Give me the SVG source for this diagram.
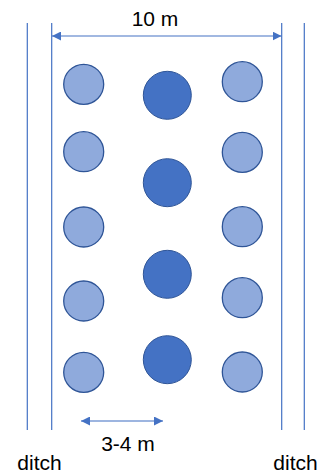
<svg xmlns="http://www.w3.org/2000/svg" width="328" height="473" viewBox="0 0 328 473">
<style>
.lt{fill:#8FAADC;stroke:#2F5597;stroke-width:1.3}
.dk{fill:#4472C4;stroke:#2F5597;stroke-width:1}
.ln{stroke:#4472C4;stroke-width:1.2;fill:none}
.t{font-family:"Liberation Sans",Arial,sans-serif;font-size:21px;fill:#000}
</style>
<defs>
<marker id="ah" viewBox="0 0 10 10" refX="10" refY="5" markerWidth="9" markerHeight="9" markerUnits="userSpaceOnUse" orient="auto-start-reverse">
<path d="M0,0 L10,5 L0,10 z" fill="#4472C4"/>
</marker>
</defs>
<g id="connectors">
<line class="ln" x1="27.3" y1="23" x2="27.3" y2="430"/>
<line class="ln" x1="51.7" y1="23" x2="51.7" y2="430"/>
<line class="ln" x1="281.7" y1="23" x2="281.7" y2="430"/>
<line class="ln" x1="304.3" y1="23" x2="304.3" y2="430"/>
<line class="ln" x1="52" y1="36" x2="281.5" y2="36" marker-start="url(#ah)" marker-end="url(#ah)"/>
<line x1="81" y1="421" x2="163" y2="421" stroke="#9DB5E0" stroke-width="2" marker-start="url(#ah)" marker-end="url(#ah)"/>
</g>
<g id="label-10m"><text class="t" x="155" y="26" text-anchor="middle">10 m</text></g>
<g id="label-34m"><text class="t" x="128" y="451" text-anchor="middle">3-4 m</text></g>
<g id="ditch-left"><text class="t" x="39.5" y="470" text-anchor="middle">ditch</text></g>
<g id="ditch-right"><text class="t" x="295.5" y="470" text-anchor="middle">ditch</text></g>
<g id="l1"><circle class="lt" cx="83.7" cy="84.3" r="20"/></g>
<g id="l2"><circle class="lt" cx="83.7" cy="151.7" r="20"/></g>
<g id="l3"><circle class="lt" cx="83.7" cy="227" r="20"/></g>
<g id="l4"><circle class="lt" cx="83.7" cy="301" r="20"/></g>
<g id="l5"><circle class="lt" cx="83.7" cy="372.3" r="20"/></g>
<g id="r1"><circle class="lt" cx="242.3" cy="81.7" r="20"/></g>
<g id="r2"><circle class="lt" cx="242.3" cy="152.3" r="20"/></g>
<g id="r3"><circle class="lt" cx="242.3" cy="226.7" r="20"/></g>
<g id="r4"><circle class="lt" cx="242.3" cy="297.7" r="20"/></g>
<g id="r5"><circle class="lt" cx="242.3" cy="372" r="20"/></g>
<g id="d1"><circle class="dk" cx="167.3" cy="95.3" r="24"/></g>
<g id="d2"><circle class="dk" cx="167.3" cy="182.7" r="24"/></g>
<g id="d3"><circle class="dk" cx="167.3" cy="274.3" r="24"/></g>
<g id="d4"><circle class="dk" cx="167.3" cy="359.7" r="24"/></g>
</svg>
